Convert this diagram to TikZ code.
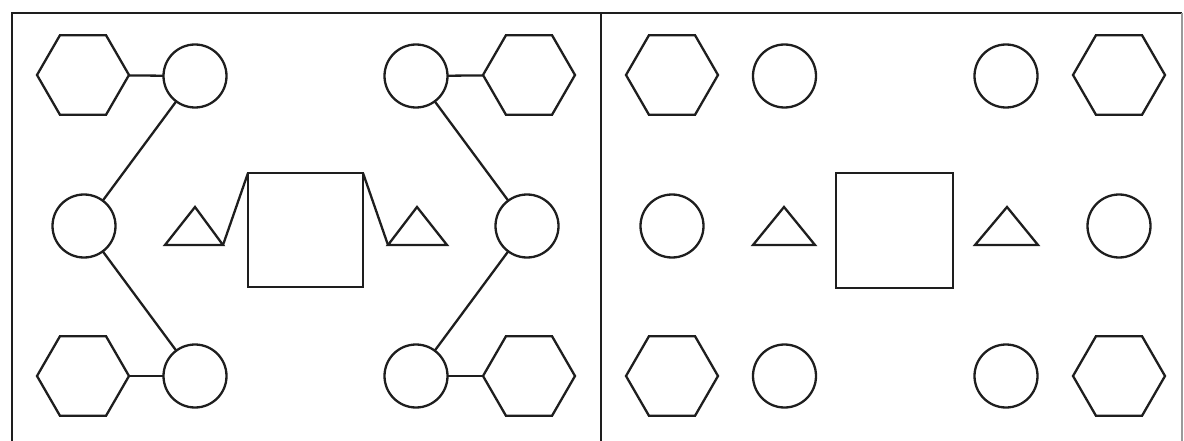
\documentclass[tikz,border=0pt]{standalone}
\usetikzlibrary{shapes.geometric}
\definecolor{ink}{HTML}{1E1E1E}
\begin{document}
\begin{tikzpicture}[x=1pt,y=-1pt,
  hexa/.style={regular polygon,regular polygon sides=6,minimum size=92pt,inner sep=0pt,outer sep=0pt,draw=ink,line width=2.3pt},
  circ/.style={circle,minimum size=63pt,inner sep=0pt,outer sep=0pt,draw=ink,line width=2.3pt},
  sqbox/.style={rectangle,minimum width=115pt,minimum height=114pt,inner sep=0pt,outer sep=0pt,draw=ink,line width=2.3pt},
  tri/.style={draw=ink,line width=2.3pt,line join=miter},
  link/.style={draw=ink,line width=2.3pt},
  frame/.style={draw=ink,line width=2.6pt}]
\useasboundingbox (0,0) rectangle (1184,441);
% frame
\draw[frame] (12,441) -- (12,13) -- (601,13);
\draw[frame,line width=2.2pt] (601,13) -- (1182,13);
\draw[draw=ink!45,line width=1.2pt] (1182,13) -- (1182,441);
\draw[frame] (601,13) -- (601,441);
% left panel nodes
\node[hexa] (h1) at (83,75) {};
\node[circ] (c1) at (195,76) {};
\node[circ] (c2) at (84,226) {};
\node[hexa] (h2) at (83,376) {};
\node[circ] (c3) at (195,376) {};
\node[circ] (c4) at (416,76) {};
\node[hexa] (h3) at (529,75) {};
\node[circ] (c5) at (527,226) {};
\node[circ] (c6) at (416,376) {};
\node[hexa] (h4) at (529,376) {};
\node[sqbox] (sq1) at (305.5,230) {};
% left triangles
\coordinate (t1a) at (165,245); \coordinate (t1b) at (195,207); \coordinate (t1c) at (223,245);
\coordinate (t2a) at (388,245); \coordinate (t2b) at (417,207); \coordinate (t2c) at (447,245);
\draw[tri] (t1a) -- (t1b) -- (t1c) -- cycle;
\draw[tri] (t2a) -- (t2b) -- (t2c) -- cycle;
% left connectors
\draw[link] (h1) -- (c1);
\draw[link] (c1) -- (c2);
\draw[link] (c2) -- (c3);
\draw[link] (h2) -- (c3);
\draw[link] (h3) -- (c4);
\draw[link] (c4) -- (c5);
\draw[link] (c5) -- (c6);
\draw[link] (h4) -- (c6);
\draw[link] (t1c) -- (sq1.north west);
\draw[link] (sq1.north east) -- (t2a);
% right panel nodes
\node[hexa] (h5) at (672,75) {};
\node[circ] (c7) at (784.5,76) {};
\node[circ] (c8) at (672,226) {};
\node[hexa] (h6) at (672,376) {};
\node[circ] (c9) at (784.5,376) {};
\node[circ] (c10) at (1006,76) {};
\node[hexa] (h7) at (1119,75) {};
\node[circ] (c11) at (1119,226) {};
\node[circ] (c12) at (1006,376) {};
\node[hexa] (h8) at (1119,376) {};
\node[sqbox,minimum width=117pt,minimum height=115pt] (sq2) at (894.5,230.5) {};
\coordinate (t3a) at (753,245); \coordinate (t3b) at (784,207); \coordinate (t3c) at (815,245);
\coordinate (t4a) at (975,245); \coordinate (t4b) at (1007,207); \coordinate (t4c) at (1038,245);
\draw[tri] (t3a) -- (t3b) -- (t3c) -- cycle;
\draw[tri] (t4a) -- (t4b) -- (t4c) -- cycle;
\end{tikzpicture}
\end{document}
